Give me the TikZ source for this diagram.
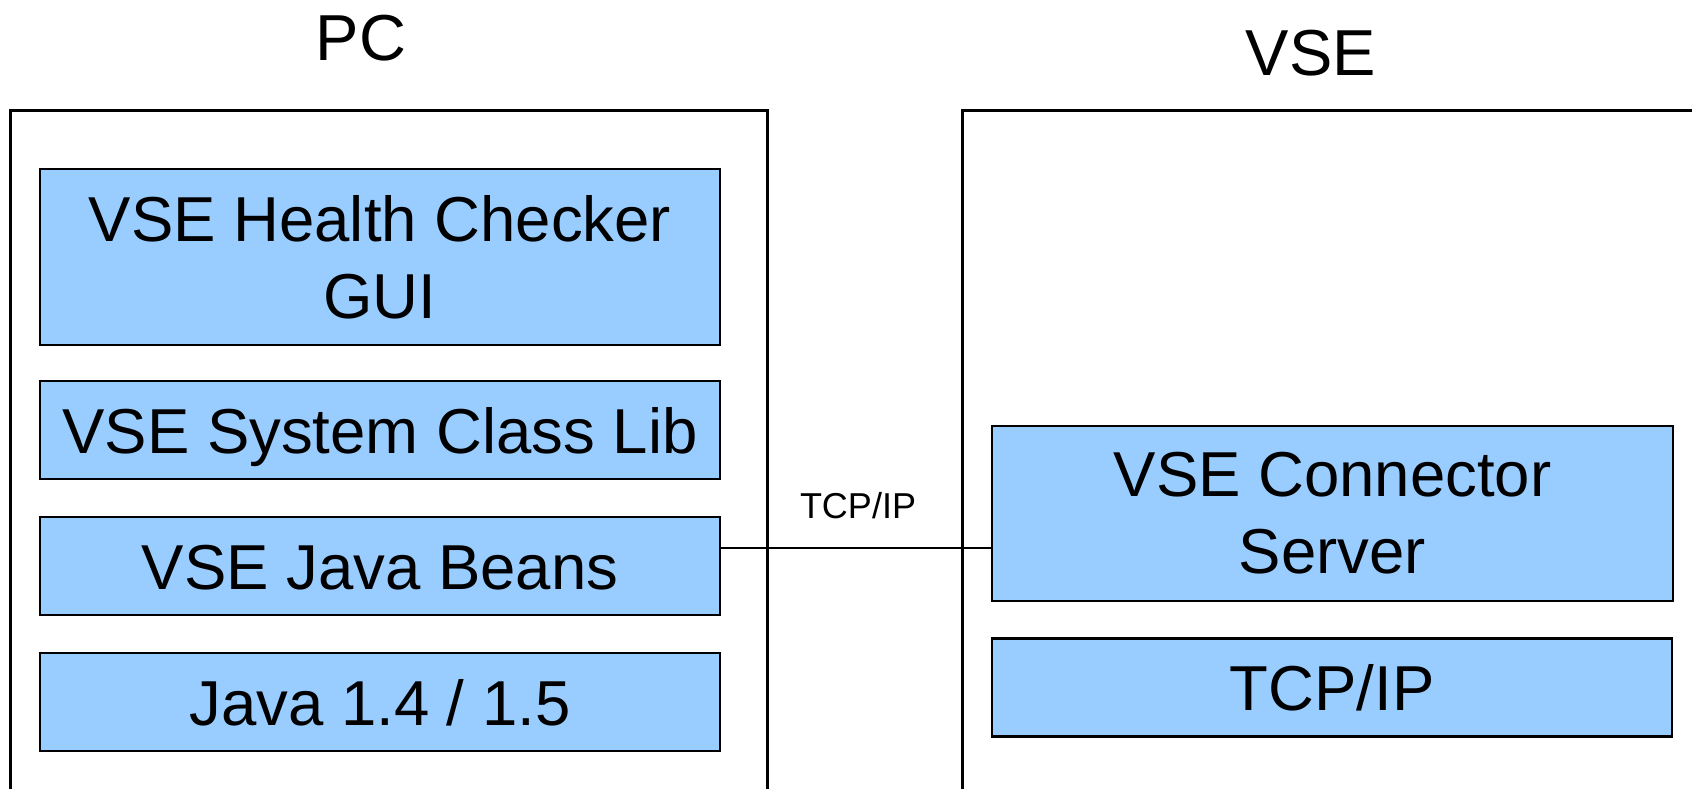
\documentclass[tikz,border=0pt]{standalone}
\usepackage{fontspec}
\setmainfont{Liberation Sans}
\begin{document}
\begin{tikzpicture}[x=1pt,y=-1pt]
  \definecolor{kBlue}{rgb}{0.6,0.8,1}
  \tikzset{
    layer/.style={draw=black,line width=2.5pt,fill=kBlue,inner sep=0pt,
      minimum width=680pt,minimum height=98pt,align=center,
      font=\fontsize{63.5}{77}\selectfont},
    oneline/.style={layer,text height=46pt,text depth=0pt},
    host/.style={draw=black,line width=2.5pt,inner sep=0pt,anchor=north west},
    title/.style={anchor=base,font=\fontsize{65}{78}\selectfont}
  }
  \useasboundingbox (0,0) rectangle (1692,788);

  % hosts
  \node[host,minimum width=757pt,minimum height=720pt] (pc) at (9,109) {};
  \node[host,minimum width=780pt,minimum height=720pt] (vse) at (961,109) {};
  \node[title] (pctitle) at (361,60) {PC};
  \node[title] (vsetitle) at (1311,75) {VSE};

  % PC layers
  \node[layer,minimum height=176pt] (gui) at (380,257) {VSE Health Checker\\GUI};
  \node[oneline] (classlib) at (380,430) {VSE System Class Lib};
  \node[oneline] (beans) at (380,566) {VSE Java Beans};
  \node[oneline] (java) at (380,702) {Java 1.4 / 1.5};

  % VSE layers
  \node[layer,minimum width=681pt,minimum height=175pt] (server) at (1332.5,513.5) {VSE Connector\\Server};
  \node[oneline] (tcpip) at (1332,687.5) {TCP/IP};

  % link
  \coordinate (link) at (860,548);
  \draw[line width=2pt] (beans.east |- link) -- (server.west |- link);
  \node[anchor=base,font=\fontsize{36}{43}\selectfont] (linklabel) at (858,518) {TCP/IP};
\end{tikzpicture}
\end{document}
